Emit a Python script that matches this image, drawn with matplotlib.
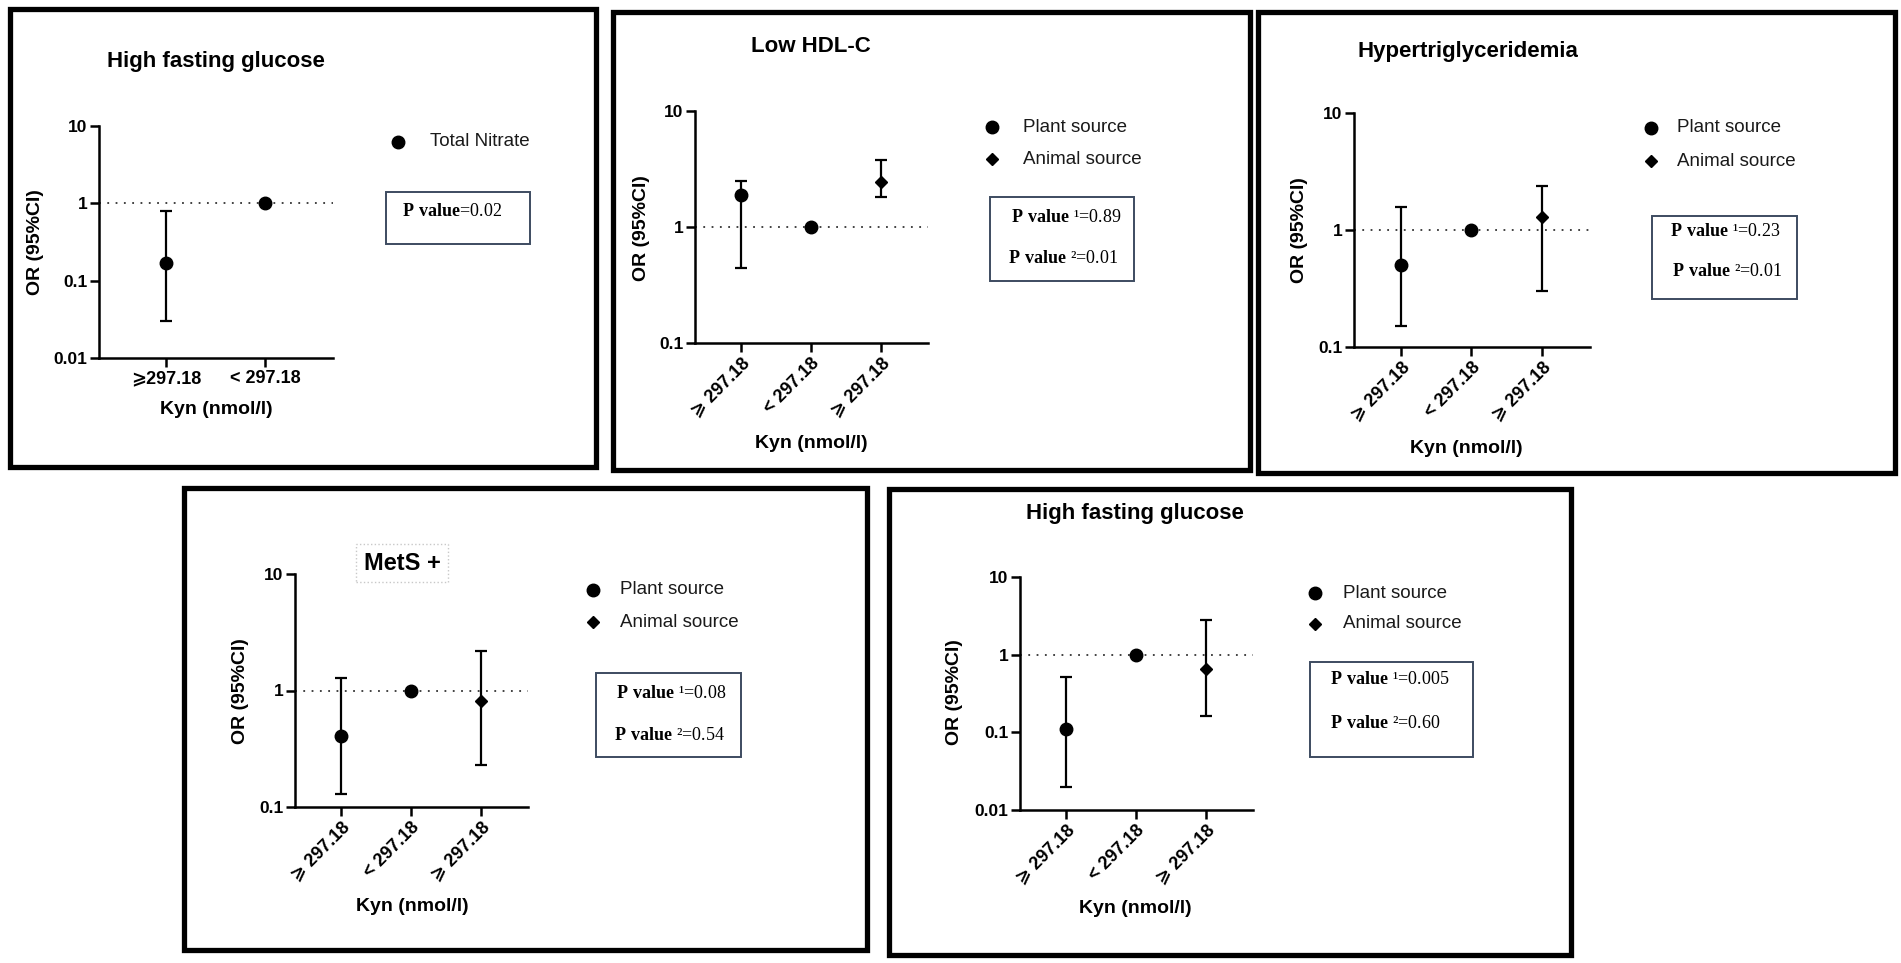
import matplotlib
matplotlib.use("Agg")
import numpy as np
import matplotlib.pyplot as plt
from matplotlib.patches import Rectangle
from matplotlib.lines import Line2D
from matplotlib.ticker import NullLocator

plt.rcParams['font.family'] = ['Liberation Sans', 'DejaVu Sans']
plt.rcParams['mathtext.fontset'] = 'custom'
plt.rcParams['mathtext.rm'] = 'Liberation Serif'
plt.rcParams['mathtext.bf'] = 'Liberation Serif:bold'

W, H = 1901, 963  # output size in pixels

# ---- data ----
titles = ["High fasting glucose", "Low HDL-C", "Hypertriglyceridemia",
          "MetS +", "High fasting glucose"]
cats_two = ["\u2a7e297.18", "< 297.18"]
cats_three = ["\u2a7e 297.18", "< 297.18", "\u2a7e 297.18"]

# odds ratios with 95% CI (reference group = 1)
hfg1_or = [0.17, 1.0]
hfg1_lo = [0.03, 1.0]
hfg1_hi = [0.80, 1.0]

hdl_or = [1.88, 1.0, 2.43]
hdl_lo = [0.44, 1.0, 1.80]
hdl_hi = [2.50, 1.0, 3.80]

tg_or = [0.50, 1.0, 1.29]
tg_lo = [0.15, 1.0, 0.30]
tg_hi = [1.57, 1.0, 2.40]

mets_or = [0.41, 1.0, 0.81]
mets_lo = [0.13, 1.0, 0.23]
mets_hi = [1.29, 1.0, 2.20]

hfg2_or = [0.11, 1.0, 0.66]
hfg2_lo = [0.02, 1.0, 0.16]
hfg2_hi = [0.51, 1.0, 2.80]

legend_one = ["Total Nitrate"]
legend_two = ["Plant source", "Animal source"]

p_hfg1 = ["0.02"]
p_hdl = ["0.89", "0.01"]
p_tg = ["0.23", "0.01"]
p_mets = ["0.08", "0.54"]
p_hfg2 = ["0.005", "0.60"]

# ---- layout (pixels, y from top) ----
panels = [
    dict(data=(hfg1_or, hfg1_lo, hfg1_hi), cats=cats_two, ylim=(0.01, 10),
         yticks=[0.01, 0.1, 1, 10], rot=0, legend=legend_one, pvals=p_hfg1,
         border=(9.5, 9.5, 595.5, 467), axes=(99, 126, 333, 358),
         title=(216, 62), ylab=(35, 242), xlab=(216, 409),
         leg=(398, [142], 430), pbox=(386, 192, 530, 244), ptext=[(402, 211)]),
    dict(data=(hdl_or, hdl_lo, hdl_hi), cats=cats_three, ylim=(0.1, 10),
         yticks=[0.1, 1, 10], rot=45, legend=legend_two, pvals=p_hdl,
         border=(612.5, 12.5, 1249.5, 470), axes=(695, 111, 928, 343),
         title=(811, 47), ylab=(641, 228), xlab=(811, 443),
         leg=(992, [127, 159], 1023), pbox=(990, 197, 1134, 281),
         ptext=[(1011, 218), (1008, 258)]),
    dict(data=(tg_or, tg_lo, tg_hi), cats=cats_three, ylim=(0.1, 10),
         yticks=[0.1, 1, 10], rot=45, legend=legend_two, pvals=p_tg,
         border=(1257.5, 12.5, 1894.5, 473), axes=(1354, 113, 1590, 347),
         title=(1468, 51), ylab=(1299, 230), xlab=(1466, 448),
         leg=(1651, [128, 161], 1677), pbox=(1652, 216, 1797, 299),
         ptext=[(1670, 231), (1672, 272)]),
    dict(data=(mets_or, mets_lo, mets_hi), cats=cats_three, ylim=(0.1, 10),
         yticks=[0.1, 1, 10], rot=45, legend=legend_two, pvals=p_mets,
         border=(183.5, 488, 867, 950), axes=(295, 574, 528, 807),
         title=(402, 563), ylab=(240, 691), xlab=(412, 906),
         leg=(593, [590, 622], 620), pbox=(596, 673, 741, 757),
         ptext=[(616, 693), (614, 735)]),
    dict(data=(hfg2_or, hfg2_lo, hfg2_hi), cats=cats_three, ylim=(0.01, 10),
         yticks=[0.01, 0.1, 1, 10], rot=45, legend=legend_two, pvals=p_hfg2,
         border=(889, 489.5, 1571, 954.5), axes=(1020, 577, 1253, 810),
         title=(1135, 513), ylab=(954, 692), xlab=(1135, 908),
         leg=(1315, [593, 624], 1343), pbox=(1310, 662, 1473, 757),
         ptext=[(1330, 680), (1330, 723)]),
]


def fx(x):
    return x / W


def fy(y):
    return 1 - y / H


fig = plt.figure(figsize=(W / 100, H / 100), dpi=100)
fig.patch.set_facecolor('white')

for k, p in enumerate(panels):
    ors, los, his = p['data']
    n = len(ors)
    xs = np.arange(n)
    markers = ['o', 'o', 'D'][:n]
    sizes = [9, 9, 6.5][:n]

    x0, y0, x1, y1 = p['axes']
    ax = fig.add_axes([fx(x0), fy(y1), (x1 - x0) / W, (y1 - y0) / H])

    ax.axhline(1, color='#333333', lw=1.3, ls=(0, (1, 3.6)), zorder=1)
    for i in range(n):
        if los[i] != his[i]:
            ax.errorbar(xs[i], ors[i],
                        yerr=[[ors[i] - los[i]], [his[i] - ors[i]]],
                        fmt='none', ecolor='black', elinewidth=1.6,
                        capsize=4.3, capthick=1.6, zorder=2)
        ax.plot(xs[i], ors[i], marker=markers[i], ms=sizes[i], color='black',
                ls='none', zorder=3)

    ax.set_yscale('log')
    ax.set_ylim(*p['ylim'])
    if n == 2:
        ax.set_xlim(-0.677, 1.687)
    else:
        ax.set_xlim(-0.665, 2.68)
    ax.yaxis.set_minor_locator(NullLocator())
    ax.set_yticks(p['yticks'])
    ax.set_yticklabels(['%g' % v for v in p['yticks']], fontsize=12.5,
                       fontweight='bold')
    ax.set_xticks(xs)
    if p['rot'] == 0:
        ax.set_xticklabels(p['cats'], fontsize=13, fontweight='bold')
    else:
        ax.set_xticklabels(p['cats'], fontsize=13, fontweight='bold',
                           rotation=45, ha='right', va='top',
                           rotation_mode='anchor')
    for s in ['top', 'right']:
        ax.spines[s].set_visible(False)
    for s in ['left', 'bottom']:
        ax.spines[s].set_linewidth(1.8)
    ax.tick_params(width=1.8, length=6.5, pad=2)
    ax.patch.set_alpha(0)

    ax.set_ylabel("OR (95%CI)", fontsize=14, fontweight='bold')
    ax.yaxis.set_label_coords(fx(p['ylab'][0]), fy(p['ylab'][1]),
                              transform=fig.transFigure)
    ax.set_xlabel("Kyn (nmol/l)", fontsize=14, fontweight='bold')
    ax.xaxis.set_label_coords(fx(p['xlab'][0]), fy(p['xlab'][1]),
                              transform=fig.transFigure)
    ax.xaxis.label.set_va('center')
    ax.yaxis.label.set_va('center')

    # panel title
    if titles[k] == "MetS +":
        fig.text(fx(p['title'][0]), fy(p['title'][1]), titles[k], fontsize=17,
                 fontweight='bold', ha='center', va='center',
                 bbox=dict(boxstyle='square,pad=0.3', fc='none', ec='#c8c8c8',
                           ls=':', lw=1))
    else:
        fig.text(fx(p['title'][0]), fy(p['title'][1]), titles[k], fontsize=16,
                 fontweight='bold', ha='center', va='center')

    # legend keys
    lx, lys, tx = p['leg']
    for j, lab in enumerate(p['legend']):
        mk = 'o' if j == 0 else 'D'
        fig.add_artist(Line2D([fx(lx)], [fy(lys[j])], marker=mk,
                              ms=9 if j == 0 else 6.5, color='black',
                              ls='none', transform=fig.transFigure))
        fig.text(fx(tx), fy(lys[j]), lab, fontsize=13.5, color='#1a1a1a',
                 ha='left', va='center')

    # p-value box
    bx0, by0, bx1, by1 = p['pbox']
    fig.add_artist(Rectangle((fx(bx0), fy(by1)), (bx1 - bx0) / W,
                             (by1 - by0) / H, transform=fig.transFigure,
                             fill=False, ec='#3d4b60', lw=1.4))
    for j, pv in enumerate(p['pvals']):
        if len(p['pvals']) == 1:
            s = r'$\mathbf{P\ value}$=' + pv
        else:
            s = r'$\mathbf{P\ value}$ ' + ['\u00b9', '\u00b2'][j] + '=' + pv
        fig.text(fx(p['ptext'][j][0]), fy(p['ptext'][j][1]), s,
                 family='Liberation Serif', fontsize=13, ha='left',
                 va='center')

    # thick panel frame
    a0, b0, a1, b1 = p['border']
    fig.add_artist(Rectangle((fx(a0), fy(b1)), (a1 - a0) / W, (b1 - b0) / H,
                             transform=fig.transFigure, fill=False,
                             ec='black', lw=3.8))

fig.savefig('out.png', dpi=100, facecolor='white')
